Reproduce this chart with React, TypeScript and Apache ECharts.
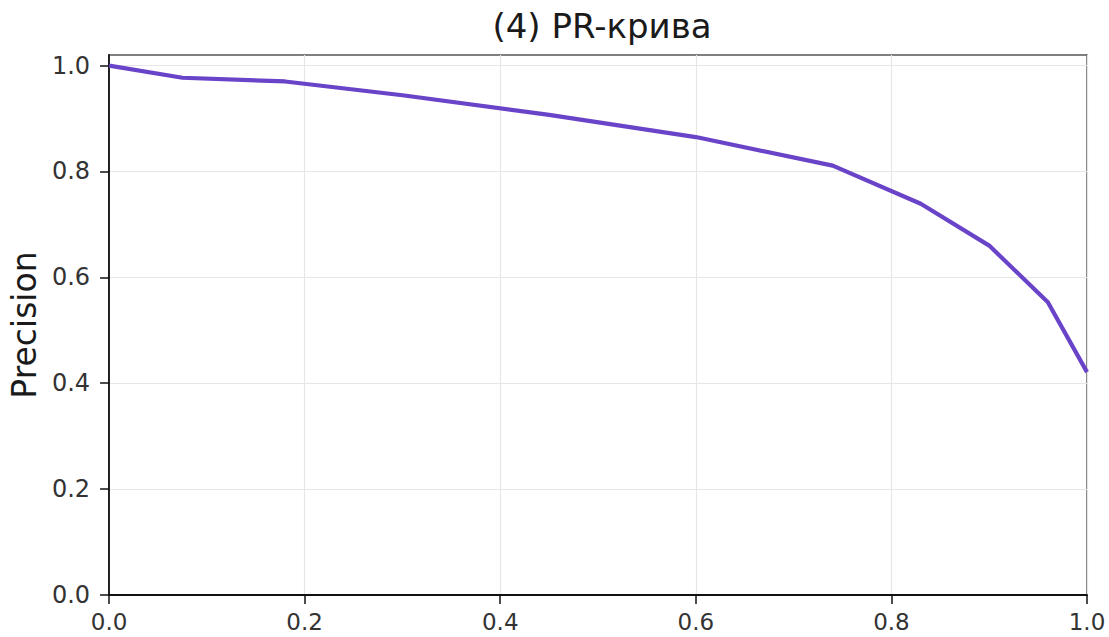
import React, { useEffect, useRef } from "react";
import * as echarts from "echarts";

const recall = [0.0, 0.075, 0.18, 0.3, 0.45, 0.6, 0.74, 0.83, 0.9, 0.96, 1.0];
const precision = [1.0, 0.977, 0.97, 0.944, 0.907, 0.865, 0.811, 0.739, 0.66, 0.553, 0.421];
const tickValues = [0, 0.2, 0.4, 0.6, 0.8, 1.0];
const titleText = "(4) PR-крива";
const yName = "Precision";

export default function App() {
  const ref = useRef<HTMLDivElement>(null);
  useEffect(() => {
    if (!ref.current) return;
    const chart = echarts.init(ref.current, null, { renderer: "svg" });
    const font = "DejaVu Sans";
    chart.setOption({
      animation: false,
      backgroundColor: "#ffffff",
      title: {
        text: titleText,
        left: 597,
        textAlign: "center",
        top: 4,
        textStyle: { fontFamily: font, fontSize: 34, fontWeight: "normal", color: "#1a1a1a" },
      },
      grid: {
        left: 107,
        right: 22,
        top: 55,
        bottom: 42,
        show: true,
        borderColor: "#555",
        borderWidth: 1.5,
        backgroundColor: "transparent",
      },
      xAxis: {
        type: "value",
        min: 0,
        max: 1,
        interval: 0.2,
        axisLine: { show: true, onZero: false, lineStyle: { color: "#111", width: 1.8 } },
        axisTick: { show: true, length: 9, lineStyle: { color: "#111", width: 1.5 } },
        axisLabel: {
          margin: 15,
          fontFamily: font,
          fontSize: 23,
          lineHeight: 24,
          color: "#333",
          formatter: (v: number) => v.toFixed(1),
        },
        splitLine: { show: true, lineStyle: { color: "#e6e6e6", width: 1.2 } },
      },
      yAxis: {
        type: "value",
        min: 0,
        max: 1.02,
        interval: 0.2,
        name: yName,
        nameLocation: "middle",
        nameRotate: 90,
        nameGap: 68,
        nameTextStyle: { fontFamily: font, fontSize: 33, color: "#1a1a1a" },
        axisLine: { show: true, onZero: false, lineStyle: { color: "#111", width: 1.8 } },
        axisTick: { show: true, length: 9, customValues: tickValues, lineStyle: { color: "#111", width: 1.5 } },
        axisLabel: {
          margin: 19,
          fontFamily: font,
          fontSize: 24,
          color: "#333",
          customValues: tickValues,
          formatter: (v: number) => v.toFixed(1),
        },
        splitLine: { show: true, lineStyle: { color: "#e6e6e6", width: 1.2 } },
      },
      series: [
        {
          type: "line",
          data: recall.map((r, i) => [r, precision[i]]),
          showSymbol: false,
          lineStyle: { color: "#6a44c8", width: 4.2 },
          clip: false,
        },
      ],
    });
    return () => chart.dispose();
  }, []);
  return <div ref={ref} style={{ width: 1109, height: 637, position: "absolute", left: 0, top: 0 }} />;
}
